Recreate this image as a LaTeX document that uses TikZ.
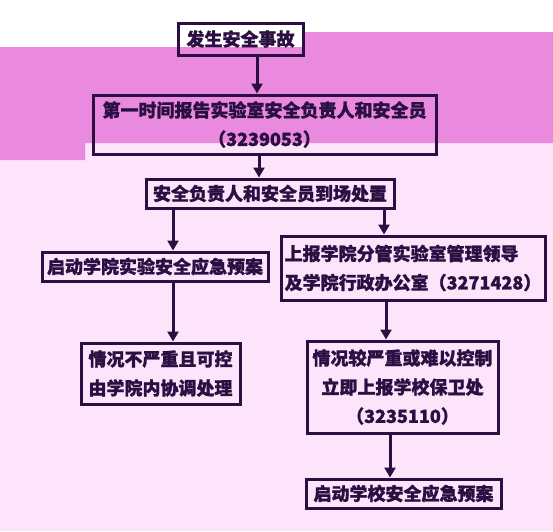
\documentclass[tikz,border=0pt]{standalone}
\usepackage{fontspec}
\newfontfamily\cjk{Noto Sans CJK SC}[BoldFeatures={FakeBold=1.2}]
\usetikzlibrary{arrows.meta}
\definecolor{bandpink}{HTML}{E98ADF}
\definecolor{palepink}{HTML}{FDE4FB}
\definecolor{inkpurple}{HTML}{2C0F42}
\tikzset{
  stepbox/.style={draw=inkpurple, line width=3pt, text=inkpurple,
    font=\cjk\bfseries\fontsize{18pt}{29pt}\selectfont, align=center, inner sep=0pt},
  arr/.style={draw=inkpurple, line width=3pt, -{Triangle[width=11pt,length=10pt]}}
}
\begin{document}
\begin{tikzpicture}[x=1pt,y=-1pt]
    \useasboundingbox (0,0) rectangle (553,531);
    % background bands
    \fill[white] (0,0) rectangle (553,531);
    \fill[palepink] (0,143) rectangle (553,531);
    \fill[bandpink] (0,47) -- (303,47) -- (303,32) -- (553,32) -- (553,143)
        -- (85,143) -- (85,160) -- (0,160) -- cycle;

    % steps
    \node[stepbox, minimum width=125pt, minimum height=32pt] (b1) at (240.5,39) {发生安全事故};
    \node[stepbox, minimum width=343pt, minimum height=59pt] (b2) at (264.5,124.5)
        {第一时间报告实验室安全负责人和安全员\\（3239053）};
    \node[stepbox, minimum width=248pt, minimum height=29pt] (b3) at (270,193.5)
        {安全负责人和安全员到场处置};
    \node[stepbox, minimum width=226pt, minimum height=29pt] (b4) at (155,266.5)
        {启动学院实验安全应急预案};
    \node[stepbox, align=left, minimum width=264pt, minimum height=64pt] (b5) at (413,268)
        {上报学院分管实验室管理领导\\及学院行政办公室（3271428）};
    \node[stepbox, minimum width=159pt, minimum height=61pt] (b6) at (160.5,373.5)
        {情况不严重且可控\\由学院内协调处理};
    \node[stepbox, minimum width=191pt, minimum height=92pt] (b7) at (402.5,387)
        {情况较严重或难以控制\\立即上报学校保卫处\\（3235110）};
    \node[stepbox, minimum width=195pt, minimum height=29pt] (b8) at (403.5,493.5)
        {启动学校安全应急预案};

    % arrows
    \draw[arr] (b1.south -| 257,0) -- (b2.north -| 257,0);
    \draw[arr] (b2.south -| 259,0) -- (b3.north -| 259,0);
    \draw[arr] (b3.south -| 173,0) -- (b4.north -| 173,0);
    \draw[arr] (b3.south -| 384,0) -- (b5.north -| 384,0);
    \draw[arr] (b4.south -| 173,0) -- (b6.north -| 173,0);
    \draw[arr] (b5.south -| 386,0) -- (b7.north -| 386,0);
    \draw[arr] (b7.south -| 390,0) -- (b8.north -| 390,0);
\end{tikzpicture}
\end{document}
